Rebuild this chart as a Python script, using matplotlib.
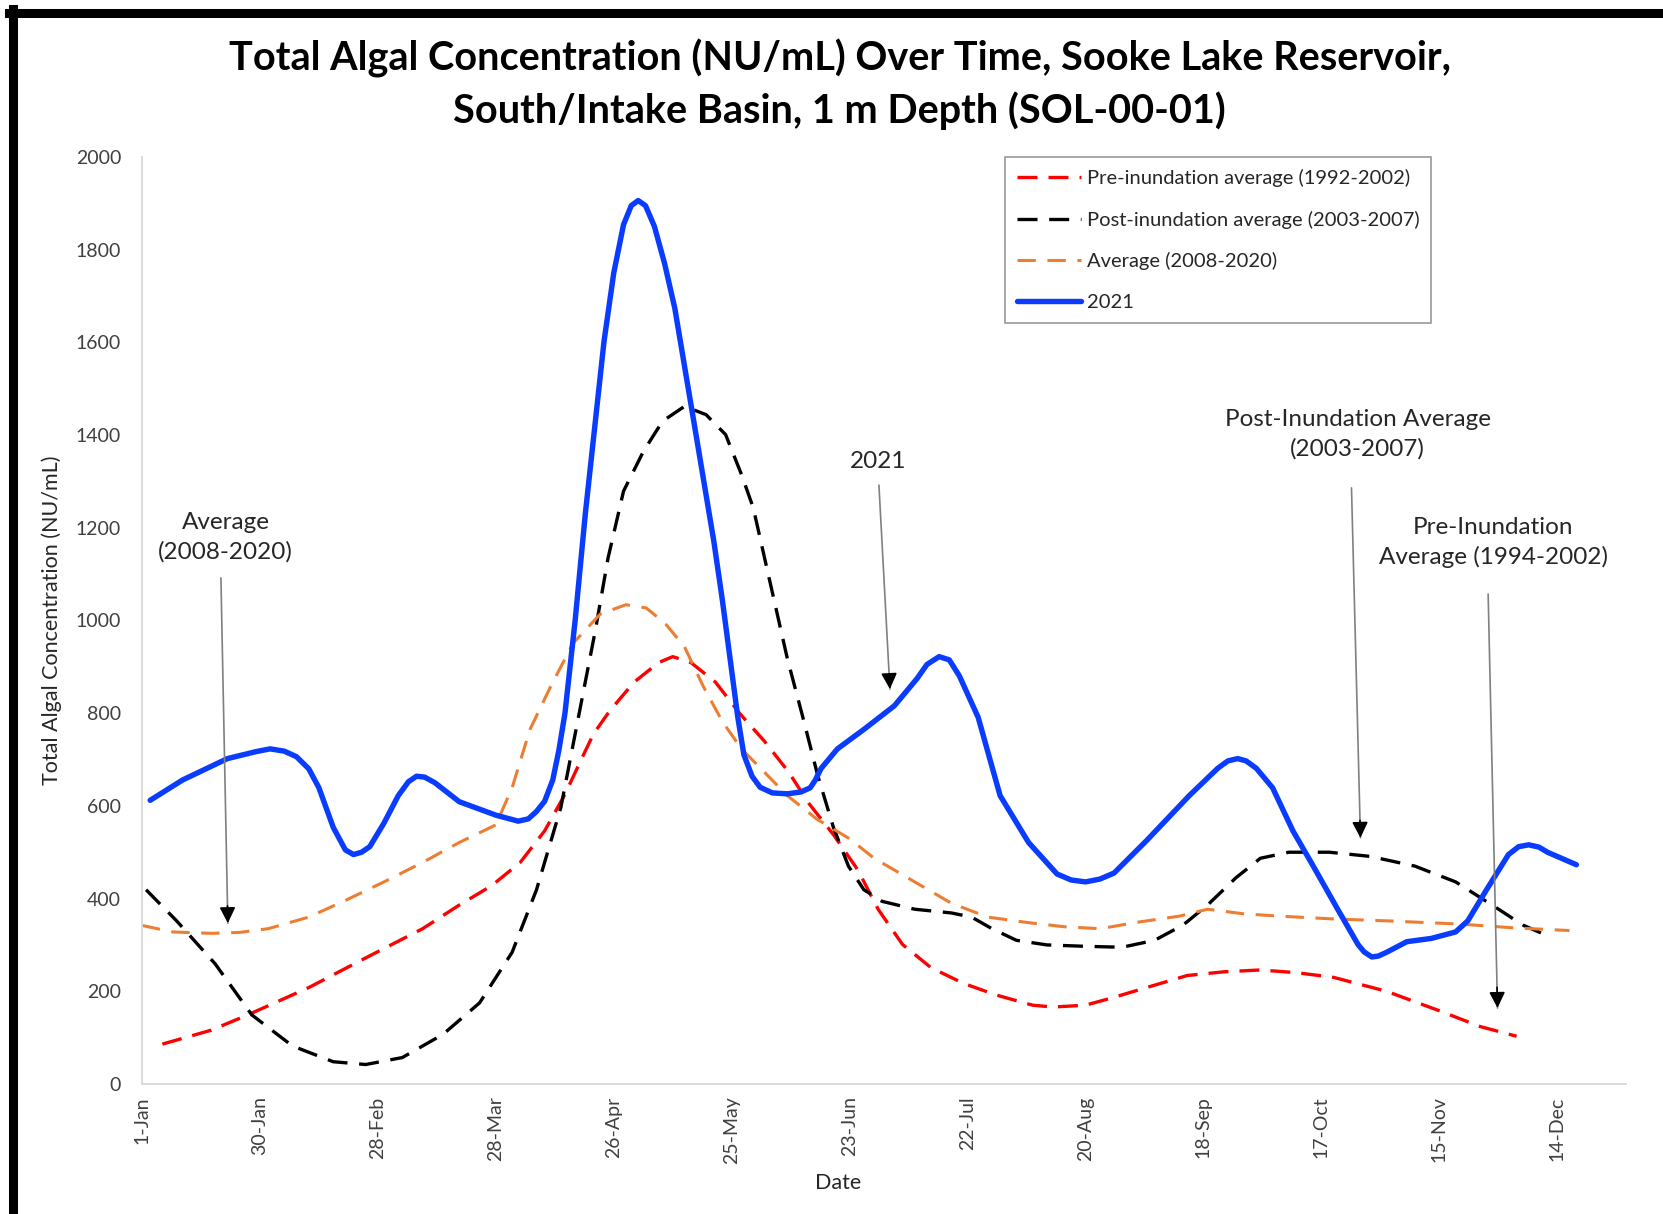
import matplotlib
matplotlib.use('Agg')
import matplotlib.pyplot as plt
from matplotlib.lines import Line2D

plt.rcParams['font.family'] = ['Lato', 'DejaVu Sans']

# x positions are days since 1-Jan
tick_days = [0, 29, 58, 87, 116, 145, 174, 203, 232, 261, 290, 319, 348]
tick_labels = ['1-Jan', '30-Jan', '28-Feb', '28-Mar', '26-Apr', '25-May', '23-Jun',
               '22-Jul', '20-Aug', '18-Sep', '17-Oct', '15-Nov', '14-Dec']

pre_days = [5, 17, 26, 41, 55, 69, 78, 86, 93, 99, 104, 108, 111, 115, 121, 127, 130.5, 135, 141, 147,
            153, 159, 164, 170, 176, 181, 187, 194, 202, 210, 219, 224, 232, 239, 247, 257, 266, 275, 284, 293,
            306, 319, 329, 338]
pre_vals = [86, 116, 149, 208, 272, 335, 386, 428, 478, 546, 625, 700, 755, 805, 867, 909, 922, 909, 867, 799,
            740, 673, 605, 538, 462, 377, 301, 251, 217, 192, 170, 166, 170, 187, 208, 234, 242, 246, 240, 230,
            200, 158, 124, 103]

post_days = [1, 8.5, 18, 27, 37, 47, 55, 64, 74, 83, 91, 97, 103, 107.5, 111.5, 114.6, 118.4, 123.3, 128, 133.4,
             138.7, 143.5, 147.4, 150.3, 154, 158.7, 162.5, 166.2, 170, 173.7, 177.5, 182, 190, 199, 204, 209, 215,
             222.5, 232, 241, 249, 256, 262, 269, 275, 282, 292, 302, 313, 323, 332, 339.5, 345]
post_vals = [419, 352, 259, 149, 82, 48, 42, 57, 107, 175, 284, 419, 597, 800, 980, 1135, 1279, 1365, 1430, 1462,
             1444, 1401, 1315, 1243, 1099, 917, 791, 664, 554, 470, 419, 394, 377, 369, 360, 335, 310,
             300, 297, 295, 310, 343, 386, 445, 487, 500, 500, 491, 470, 436, 386, 343, 322]

avg_days = [0, 7.6, 17, 24, 31, 41, 50, 59.5, 69, 78, 87, 91, 95.4, 100.5, 106, 112.7, 119, 124, 128.7, 133.4,
            138, 142.7, 147.4, 153, 158.7, 166, 174, 180, 190, 199, 208, 218, 227, 235.7, 244, 255, 262, 271, 280,
            293, 306, 324, 337, 351]
avg_vals = [342, 328, 325, 327, 335, 360, 396, 436, 478, 521, 559, 639, 765, 858, 951, 1014, 1034, 1027, 993, 943,
            858, 782, 723, 673, 622, 571, 529, 487, 436, 390, 360, 348, 339, 335, 348, 362, 377, 367, 362,
            356, 352, 345, 337, 331]

y21_days = [2, 10, 21, 28, 31.5, 35, 38, 41, 43.5, 47, 50, 52, 54, 56, 59.5, 63, 65.5, 67.5, 69.5, 72, 78, 87,
            92.5, 95, 97, 99, 101, 102.5, 104, 106.5, 109, 113.6, 116, 118.4, 120.3, 122, 123.8, 126, 128.5,
            131, 135.8, 140.6, 142.7, 146.5, 148, 150, 152, 155, 158.7, 162, 164.3, 165.5, 167, 171, 177.5,
            185, 190.6, 193, 196, 198.5, 201, 205.6, 211, 218, 225, 228.5, 232, 235.5, 239, 247, 257.5,
            264.5, 267, 269.4, 271.5, 274, 278, 283, 288, 294, 299, 300.5, 302.4, 304, 306, 311, 317, 323,
            326, 330.6, 336, 338.5, 341, 343.5, 345.6, 352.7]
y21_vals = [612, 656, 702, 717, 723, 718, 706, 680, 639, 554, 505, 495, 500, 512, 563, 622, 652, 664, 662, 650,
            609, 580, 567, 572, 588, 610, 656, 720, 800, 1000, 1230, 1602, 1750, 1854, 1895, 1906, 1895, 1850,
            1770, 1674, 1423, 1171, 1044, 791, 710, 664, 640, 628, 626, 630, 639, 655, 681, 723, 765, 816,
            875, 905, 922, 915, 880, 791, 622, 521, 453, 440, 436, 442, 455, 525, 622, 681, 697, 702, 697,
            681, 639, 546, 470, 377, 301, 285, 274, 276, 284, 307, 314, 328, 352, 419, 495, 512, 516, 511,
            500, 473]

fig = plt.figure(figsize=(16.63, 12.14), dpi=100)
ax = fig.add_axes([0.0854, 0.1071, 0.8926, 0.7636])

ax.plot(pre_days, pre_vals, color='#FF0000', lw=2.4, dashes=(6.0, 3.3), label='Pre-inundation average (1992-2002)')
ax.plot(post_days, post_vals, color='#000000', lw=2.4, dashes=(6.0, 3.5), label='Post-inundation average (2003-2007)')
ax.plot(avg_days, avg_vals, color='#ED7D31', lw=2.2, dashes=(6.0, 3.8), label='Average (2008-2020)')
ax.plot(y21_days, y21_vals, color='#0A3CFF', lw=3.9, solid_joinstyle='round', solid_capstyle='round', label='2021')

ax.set_xlim(0, 365)
ax.set_ylim(0, 2000)
ax.set_yticks(range(0, 2001, 200))
ax.set_xticks(tick_days)
ax.set_xticklabels(tick_labels, rotation=90)
ax.tick_params(length=0, labelsize=14, colors='#404040')
ax.tick_params(axis='y', pad=15)
ax.tick_params(axis='x', pad=9)
for s in ['top', 'right']:
    ax.spines[s].set_visible(False)
for s in ['left', 'bottom']:
    ax.spines[s].set_color('#D9D9D9')
    ax.spines[s].set_linewidth(1.3)

ax.set_xlabel('Date', fontsize=15.5, color='#262626', labelpad=6, x=0.469)
ax.set_ylabel('Total Algal Concentration (NU/mL)', fontsize=15.5, color='#262626', labelpad=10)

fig.text(0.505, 0.952, 'Total Algal Concentration (NU/mL) Over Time, Sooke Lake Reservoir,',
         ha='center', va='center', fontsize=28.5, fontweight='bold')
fig.text(0.505, 0.909, 'South/Intake Basin, 1 m Depth (SOL-00-01)',
         ha='center', va='center', fontsize=28.5, fontweight='bold')

leg = ax.legend(loc='upper left', bbox_to_anchor=(0.6043, 0.8707), bbox_transform=fig.transFigure,
                borderaxespad=0, fontsize=14.5, frameon=True, fancybox=False, edgecolor='#7F7F7F',
                handlelength=3.2, handletextpad=0.25, labelspacing=1.17, borderpad=0.6)
leg.get_frame().set_linewidth(1.2)
for t in leg.get_texts():
    t.set_color('#262626')

# annotations: (text x, text y, tail x, tail y, head x, head y) in data units
notes = [
    ('Average\n(2008-2020)', 20.6, 1180, 19.4, 1092, 21.1, 347),
    ('2021', 181, 1344, 181.2, 1292, 183.9, 852),
    ('Post-Inundation Average\n(2003-2007)', 298.9, 1402, 297.4, 1286, 299.6, 531),
    ('Pre-Inundation\nAverage (1994-2002)', 332.3, 1169, 331, 1057, 333.3, 164),
]
for txt, tx, ty, x0, y0, x1, y1 in notes:
    ax.text(tx, ty, txt, ha='center', va='center', fontsize=17.5, color='#262626', linespacing=1.45)
    ax.annotate('', xy=(x1, y1), xytext=(x0, y0),
                arrowprops=dict(arrowstyle='-', color='#808080', lw=1.2, shrinkA=0, shrinkB=0))
    ax.annotate('', xy=(x1, y1), xytext=(x1 - (x1 - x0) * 0.05, y1 + (y0 - y1) * 0.05),
                arrowprops=dict(arrowstyle='-|>', color='#000000', lw=1.2, mutation_scale=24,
                                shrinkA=0, shrinkB=0))

# screenshot frame (top and left edges)
fig.add_artist(Line2D([0.0054, 1.0], [0.9895, 0.9895], transform=fig.transFigure, color='black', lw=6.5))
fig.add_artist(Line2D([0.0078, 0.0078], [0.0, 0.9925], transform=fig.transFigure, color='black', lw=6.5))

fig.savefig('out.png', dpi=100)
